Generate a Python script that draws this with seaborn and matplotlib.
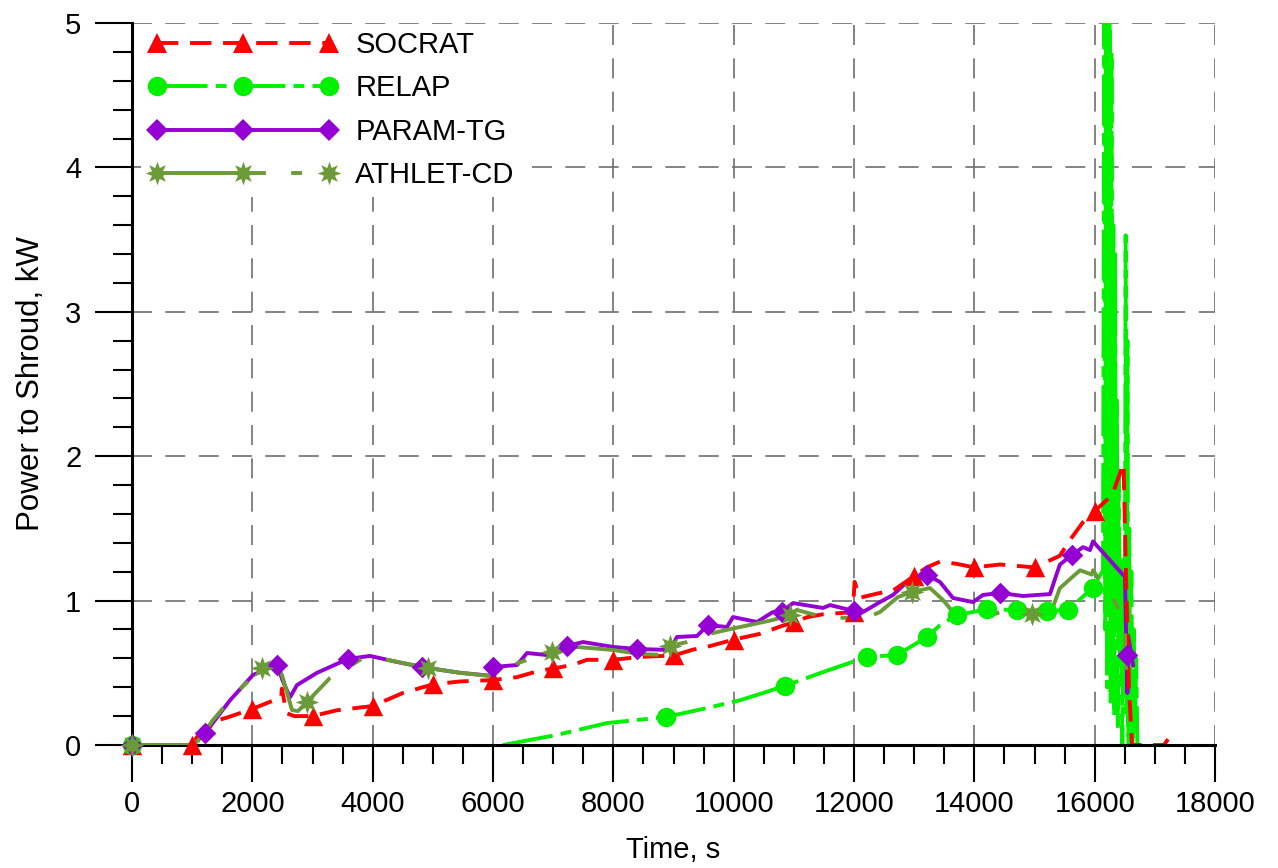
import numpy as np
import pandas as pd
import matplotlib
matplotlib.use("Agg")
import matplotlib.pyplot as plt
import seaborn as sns
from matplotlib.lines import Line2D
from matplotlib.ticker import MultipleLocator

# ---------------- data ----------------
socrat_x = [0, 1000, 1080, 1413, 1579, 2000, 2480, 2490, 2570, 2700, 3000, 3400, 4000, 4500, 5000,
            5450, 6000, 6400, 6730, 7000, 7330, 7560, 8000, 8440, 9000, 9320, 9560, 10000, 10440,
            10770, 11000, 11220, 11480, 11980, 12010, 12100, 12400, 12650, 13000, 13210, 13430,
            13700, 14000, 14430, 15000, 15420, 15590, 15800, 16000, 16290, 16480, 16520, 16545,
            16570, 16620, 17150, 17220]
socrat_y = [0, 0, 0.055, 0.17, 0.19, 0.25, 0.33, 0.39, 0.22, 0.20, 0.20, 0.24, 0.27, 0.36, 0.42,
            0.44, 0.45, 0.47, 0.51, 0.53, 0.555, 0.59, 0.59, 0.61, 0.62, 0.66, 0.68, 0.73, 0.77,
            0.82, 0.85, 0.885, 0.905, 0.92, 1.13, 1.02, 1.05, 1.07, 1.17, 1.23, 1.27,
            1.255, 1.23, 1.25, 1.23, 1.31, 1.42, 1.54, 1.62, 1.73, 1.95, 1.2, 0.8,
            0.4, 0.0, 0.0, 0.04]
socrat_mx = [0, 1000, 2000, 3000, 4000, 5000, 6000, 7000, 8000, 9000, 10000, 11000, 12000,
             13000, 14000, 15000, 16000]
socrat_my = [0, 0, 0.25, 0.20, 0.27, 0.42, 0.45, 0.53, 0.59, 0.62, 0.73, 0.85, 0.92,
             1.17, 1.23, 1.23, 1.62]

relap_x = [6166, 7064, 7895, 8875, 9556, 10105, 10488, 10853, 11485, 12216, 12715, 13213, 13429,
           13711, 14210, 14709, 15207, 15560, 15972, 16139,
           16160, 16175, 16190, 16205, 16220, 16235, 16250, 16265, 16280, 16295, 16310, 16325,
           16340, 16355, 16370, 16385, 16400, 16420, 16440, 16460, 16480, 16500, 16515, 16530,
           16545, 16560, 16575, 16590, 16610, 16630, 16650, 16670, 16690, 16710]
relap_y = [0.0, 0.07, 0.152, 0.194, 0.256, 0.31, 0.36, 0.41, 0.505, 0.61, 0.623, 0.748, 0.83,
           0.90, 0.94, 0.935, 0.928, 0.935, 1.09, 1.21,
           5.3, 0.8, 5.3, 0.4, 5.2, 0.9, 5.1, 0.3, 4.8, 0.6, 3.6, 0.2,
           3.4, 1.0, 2.4, 0.1, 1.9, 0.6, 1.3, 0.0, 1.1, 0.4, 3.53, 0.2,
           2.8, 0.0, 1.5, 0.3, 1.2, 0.0, 0.8, 0.1, 0.6, 0.0]
relap_mx = [0, 8875, 10853, 12216, 12715, 13213, 13711, 14210, 14709, 15207, 15560, 15972]
relap_my = [0, 0.194, 0.41, 0.61, 0.623, 0.748, 0.90, 0.94, 0.935, 0.928, 0.935, 1.09]

param_x = [0, 1000, 1210, 1630, 2010, 2410, 2500, 2626, 2742, 3075, 3590, 3956, 4404, 4820, 5451,
           5950, 6000, 6400, 6565, 6897, 7230, 7496, 7995, 8393, 8941, 9058, 9390, 9573, 9889,
           9989, 10388, 10650, 10803, 10986, 11485, 11601, 11933, 12149, 12432, 12648, 12881,
           13213, 13429, 13645, 13977, 14143, 14426, 14808, 15257, 15373, 15423, 15623, 15806,
           15922, 15972, 16504, 16530, 16545, 16560, 16640]
param_y = [0, 0, 0.08, 0.31, 0.485, 0.555, 0.45, 0.33, 0.415, 0.50, 0.596, 0.617, 0.575, 0.54, 0.50,
           0.48, 0.54, 0.554, 0.637, 0.623, 0.686, 0.713, 0.679, 0.665, 0.658, 0.748, 0.755, 0.831,
           0.817, 0.886, 0.852, 0.92, 0.921, 0.983, 0.949, 0.969, 0.935, 0.921, 0.99, 1.039, 1.129,
           1.177, 1.129, 1.018, 0.99, 1.039, 1.053, 1.032, 1.045, 1.19, 1.25, 1.316, 1.37,
           1.35, 1.41, 1.164, 0.6, 0.36, 0.75, 0.55]
param_mx = [0, 1210, 2410, 3590, 4820, 6000, 7230, 8393, 9573, 10803, 12000, 13213, 14426, 15623, 16537]
param_my = [0, 0.08, 0.555, 0.596, 0.54, 0.54, 0.686, 0.665, 0.831, 0.921, 0.93, 1.177, 1.053, 1.316, 0.62]

athlet_x = [0, 1000, 1100, 1346, 1745, 2161, 2410, 2493, 2659, 2759, 2908, 3291, 3840, 4000, 4920,
            5451, 5950, 6415, 6980, 7396, 7995, 8443, 8892, 8941, 9224, 9656, 10105, 10654, 10936,
            11052, 11485, 11933, 12049, 12432, 12731, 12964, 13263, 13479, 13645, 13878, 14093,
            14500, 14958, 15257, 15423, 15756, 15955, 15972, 16371, 16504, 16520]
athlet_y = [0, 0, 0.03, 0.173, 0.367, 0.533, 0.55, 0.485, 0.242, 0.235, 0.298, 0.464, 0.602, 0.61, 0.533,
            0.50, 0.478, 0.568, 0.644, 0.679, 0.658, 0.63, 0.623, 0.686, 0.713, 0.776, 0.817, 0.866, 0.90,
            0.935, 0.886, 0.879, 0.852, 0.921, 1.025, 1.06, 1.087, 1.004, 0.921, 0.879, 0.873,
            0.93, 0.907, 0.90, 1.087, 1.21, 1.18, 1.21, 0.97, 0.76, 0.52]
athlet_mx = [0, 2161, 2908, 4920, 6980, 8941, 10936, 12964, 14958]
athlet_my = [0, 0.533, 0.298, 0.533, 0.644, 0.686, 0.90, 1.06, 0.907]

x_ticks = [0, 2000, 4000, 6000, 8000, 10000, 12000, 14000, 16000, 18000]
y_ticks = [0, 1, 2, 3, 4, 5]

# ---------------- styling ----------------
sns.set_style("white")
plt.rcParams['font.family'] = ['Liberation Sans', 'DejaVu Sans']
plt.rcParams.update({"text.color": "black", "axes.labelcolor": "black",
                     "xtick.color": "black", "ytick.color": "black"})

RED = "#FF0000"
GREEN = "#00F000"
PURPLE = "#9400D3"
OLIVE = "#6B9A38"
LW = 2.8

fig = plt.figure(figsize=(12.78, 8.68), dpi=100)
ax = fig.add_axes([132 / 1278, 1 - 745 / 868, (1215 - 132) / 1278, (745 - 23) / 868])

series = [
    dict(name="SOCRAT", x=socrat_x, y=socrat_y, mx=socrat_mx, my=socrat_my, color=RED,
         ls=(0, (5.5, 3.0)), marker="^", ms=14, z=2.0),
    dict(name="RELAP", x=relap_x, y=relap_y, mx=relap_mx, my=relap_my, color=GREEN,
         ls=(0, (13, 2.1, 2.8, 2.1)), marker="o", ms=14, z=1.6),
    dict(name="PARAM-TG", x=param_x, y=param_y, mx=param_mx, my=param_my, color=PURPLE,
         ls="-", marker="D", ms=11, z=1.8),
    dict(name="ATHLET-CD", x=athlet_x, y=athlet_y, mx=athlet_mx, my=athlet_my, color=OLIVE,
         ls=(0, (28, 6.5, 2.8, 6.5)), marker=(8, 1, 0), ms=17, z=3.0),
]

handles = []
for s in series:
    sns.lineplot(x=s["x"], y=s["y"], ax=ax, color=s["color"], linestyle=s["ls"], linewidth=LW,
                 sort=False, estimator=None, legend=False, zorder=s["z"])
    sns.scatterplot(x=s["mx"], y=s["my"], ax=ax, color=s["color"], marker=s["marker"],
                    s=s["ms"] ** 2, linewidth=0, edgecolor=s["color"], legend=False,
                    zorder=3.2, clip_on=False)
    handles.append(Line2D([], [], color=s["color"], linestyle=s["ls"], linewidth=LW,
                          marker=s["marker"], markersize=s["ms"], markeredgewidth=0,
                          label=s["name"]))

ax.set_xlim(0, 18000)
ax.set_ylim(0, 5)
ax.set_xticks(x_ticks)
ax.set_yticks(y_ticks)
ax.xaxis.set_minor_locator(MultipleLocator(500))
ax.yaxis.set_minor_locator(MultipleLocator(0.2))
ax.tick_params(which="major", direction="out", length=26.5, width=1.5, color="black",
               labelcolor="black", labelsize=21, bottom=True, left=True)
ax.tick_params(axis="x", which="major", pad=6)
ax.tick_params(axis="y", which="major", pad=10)
ax.tick_params(which="minor", direction="out", length=13.5, width=1.5, color="black",
               bottom=True, left=True)

ax.grid(True, which="major", linestyle=(0, (12, 8)), color="#6e6e6e", linewidth=1.2)
for side in ["top", "right"]:
    ax.spines[side].set_visible(False)
for side in ["left", "bottom"]:
    ax.spines[side].set_color("black")
    ax.spines[side].set_linewidth(2.2)

ax.set_xlabel("Time, s", fontsize=21, labelpad=13, color="black")
ax.set_ylabel("Power to Shroud, kW", fontsize=22.5, labelpad=14, color="black")

leg = ax.legend(handles=handles, loc="upper left", bbox_to_anchor=(0.0083, 0.999), borderaxespad=0,
                borderpad=0.25, frameon=True, fancybox=False, facecolor="white", edgecolor="none",
                framealpha=1, fontsize=21, numpoints=3, handlelength=6.5,
                handletextpad=0.6, labelspacing=0.53)
for t in leg.get_texts():
    t.set_color("black")
leg.set_zorder(5)

fig.savefig("out.png", dpi=100)
